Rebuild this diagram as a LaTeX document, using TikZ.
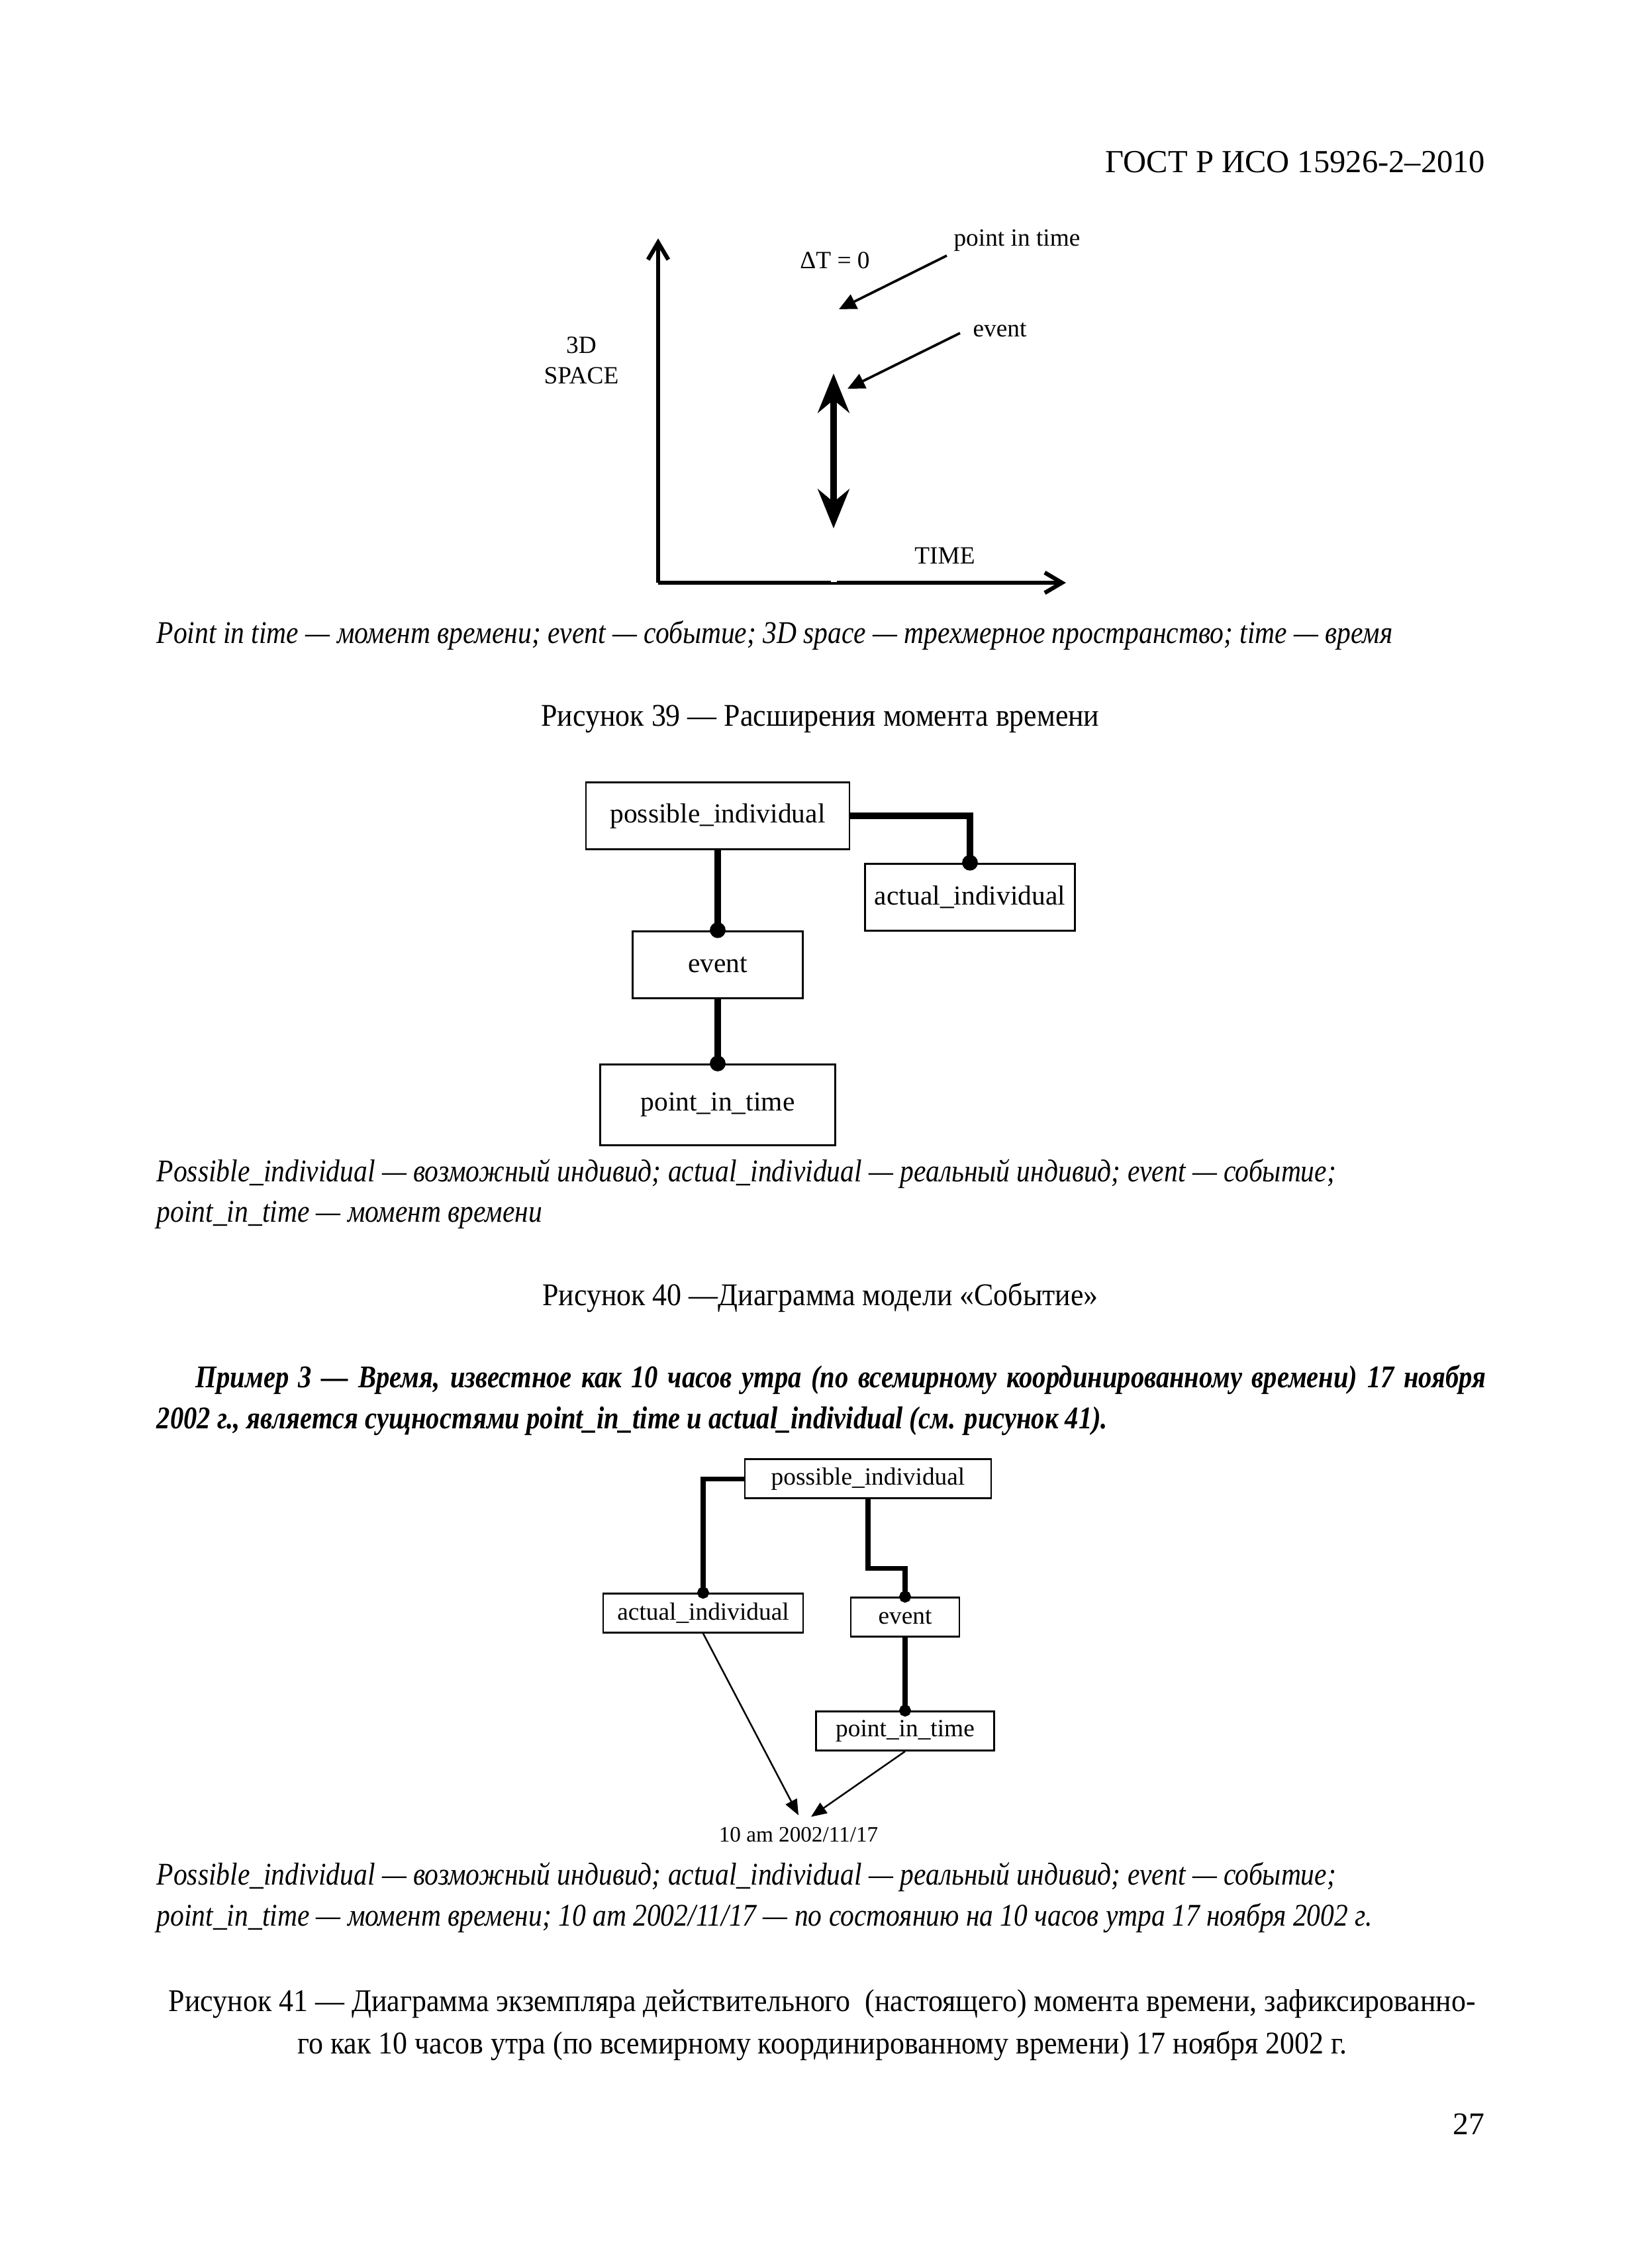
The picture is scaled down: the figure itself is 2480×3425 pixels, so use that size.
\documentclass[tikz,border=0pt]{standalone}
\usepackage{fontspec}
\setmainfont{Liberation Serif}[
    ItalicFeatures={FakeStretch=0.87},
    BoldItalicFeatures={FakeStretch=0.85}]
\newfontfamily\podpisfont{Liberation Serif}[FakeStretch=0.92]
\usetikzlibrary{arrows.meta, positioning}

\begin{document}
\begin{tikzpicture}[
        x=0.08468mm, y=-0.08468mm,
        every node/.style={font=\fontsize{11.5}{15}\selectfont, inner sep=0pt},
        poyasn/.style={anchor=west, font=\fontsize{11.5}{15}\selectfont\itshape},
        rubrika/.style={font=\podpisfont\fontsize{11.5}{15.3}\selectfont, align=center},
        metka/.style={font=\fontsize{9}{11}\selectfont, align=center},
        sushch/.style={
            rectangle, draw=black, line width=0.7pt,
            font=\fontsize{10}{12}\selectfont, minimum height=8.6mm
        },
        sushchm/.style={
            rectangle, draw=black, line width=0.6pt,
            font=\fontsize{9}{11}\selectfont, minimum height=5mm
        },
        os/.style={line width=1.5pt, -{Straight Barb[length=2.2mm, width=2.6mm]}},
        ukaz/.style={line width=0.9pt, -{Triangle[length=2.2mm, width=2mm]}},
        dvoyn/.style={line width=2.6pt, {Stealth[length=5mm, width=4mm]}-{Stealth[length=5mm, width=4mm]}},
        svyaz/.style={line width=2.4pt, -{Circle[length=2mm]}, shorten >=-1mm},
        svyazm/.style={line width=1.7pt, -{Circle[length=1.5mm]}, shorten >=-0.75mm},
        strel/.style={line width=0.6pt, -{Triangle[length=2mm, width=1.6mm]}}
    ]

    \path[fill=white] (0,0) rectangle (2480,3425);
    \useasboundingbox (0,0) rectangle (2480,3425);

% --- Колонтитул ---
    \node[anchor=east, font=\fontsize{11.7}{14}\selectfont] (gost) at (2244,245) {ГОСТ Р ИСО 15926-2–2010};

% --- Рисунок 39: оси ---
    \coordinate (nachalo) at (994,880);
    \coordinate (verh) at (994,360);
    \coordinate (konec) at (1610,880);
    \draw[os] (nachalo) -- (verh);
    \draw[os] (nachalo) -- (konec);
    \fill[white] (1255,875) rectangle (1264,879);

    \node[metka] (prostr) at (878,544) {3D\\SPACE};
    \node[metka] (vremya) at (1427,839) {TIME};
    \node[metka] (delta) at (1261,393) {ΔT = 0};
    \node[metka] (moment) at (1536,363) {point in time};
    \node[metka] (sobyt) at (1510,498) {event};

% --- Рисунок 39: событие и момент ---
    \coordinate (moment_ot) at (1430,386);
    \coordinate (moment_tip) at (1267,467);
    \coordinate (sob_ot) at (1450,503);
    \coordinate (sob_tip) at (1280,587);
    \coordinate (sob_verh) at (1259,564);
    \coordinate (sob_niz) at (1259,798);
    \draw[dvoyn] (sob_niz) -- (sob_verh);
    \draw[ukaz] (moment_ot) -- (moment_tip);
    \draw[ukaz] (sob_ot) -- (sob_tip);

    \node[poyasn] (poj39) at (236,959)
        {Point in time — момент времени; event — событие; 3D space — трехмерное пространство; time — время};
    \node[rubrika] (ris39) at (1239,1086) {Рисунок 39 — Расширения момента времени};

% --- Рисунок 40 ---
    \node[sushch, minimum width=33.7mm] (vozm) at (1084,1232) {possible\_individual};
    \node[sushch, minimum width=26.8mm] (real) at (1465,1355) {actual\_individual};
    \node[sushch, minimum width=21.8mm, below=10.2mm of vozm] (sob) {event};
    \node[sushch, minimum width=30.1mm, minimum height=10.3mm, below=8.2mm of sob] (mom) {point\_in\_time};

    \draw[svyaz] (vozm.south) -- (sob.north);
    \draw[svyaz] (vozm.east) -| (real.north);
    \draw[svyaz] (sob.south) -- (mom.north);

    \node[poyasn] (poj40a) at (236,1772)
        {Possible\_individual — возможный индивид; actual\_individual — реальный индивид; event — событие;};
    \node[poyasn] (poj40b) at (236,1835) {point\_in\_time — момент времени};
    \node[rubrika] (ris40) at (1239,1960) {Рисунок 40 —Диаграмма модели «Событие»};

% --- Пример 3 ---
    \node[anchor=north west, text width=170mm, align=justify,
        font=\fontsize{11.5}{15}\selectfont\bfseries\itshape] (primer) at (236,2060)
        {\hspace*{5mm}Пример 3 — Время, известное как 10 часов утра (по всемирному координированному времени) 17 ноября\linebreak
        2002 г., является сущностями point\_in\_time и actual\_individual (см. рисунок 41).};

% --- Рисунок 41 ---
    \node[sushchm, minimum width=31.5mm] (vozm2) at (1311,2233) {possible\_individual};
    \node[sushchm, minimum width=25.6mm] (real2) at (1062,2436) {actual\_individual};
    \node[sushchm, minimum width=13.9mm] (sob2) at (1367,2442) {event};
    \node[sushchm, minimum width=22.8mm] (mom2) at (1367,2614) {point\_in\_time};
    \node[font=\fontsize{8}{10}\selectfont] (data) at (1206,2771) {10 am 2002/11/17};

    \draw[svyazm] (vozm2.west) -| (real2.north);
    \draw[svyazm] (vozm2.south) -- ++(0,105) -| (sob2.north);
    \draw[svyazm] (sob2.south) -- (mom2.north);
    \draw[strel] (real2.south) -- ([yshift=1.5mm]data.north);
    \draw[strel] (mom2.south) -- ([xshift=1.6mm, yshift=1.3mm]data.north);

    \node[poyasn] (poj41a) at (236,2834)
        {Possible\_individual — возможный индивид; actual\_individual — реальный индивид; event — событие;};
    \node[poyasn] (poj41b) at (236,2897)
        {point\_in\_time — момент времени; 10 am 2002/11/17 — по состоянию на 10 часов утра 17 ноября 2002 г.};
    \node[rubrika] (ris41) at (1242,3058)
        {Рисунок 41 — Диаграмма экземпляра действительного \ (настоящего) момента времени, зафиксированно-\\
        го как 10 часов утра (по всемирному координированному времени) 17 ноября 2002 г.};

    \node (stranica) at (2218,3208) {27};
\end{tikzpicture}
\end{document}
